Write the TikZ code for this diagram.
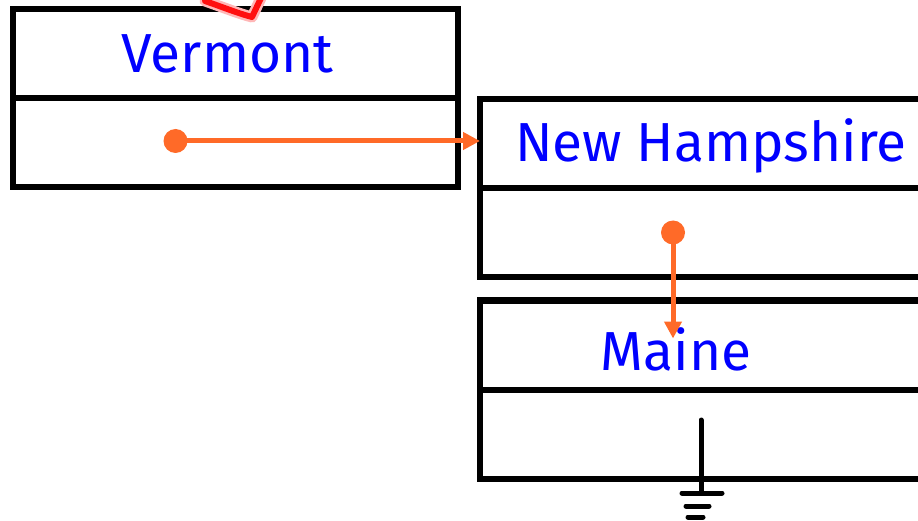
\documentclass[tikz,border=0pt]{standalone}
\usepackage{fontspec}
\setmainfont{Fira Sans}
\usetikzlibrary{positioning,arrows.meta,calc}
\definecolor{LinkOrange}{HTML}{FF6A28}
\definecolor{NameBlue}{HTML}{0000FF}
\definecolor{InkRed}{HTML}{FF1010}

\begin{document}
\begin{tikzpicture}[
    x=1pt, y=-1pt,
    cell/.style={draw, line width=6pt, outer sep=0pt, inner sep=0pt,
                 minimum height=89pt},
    lbl/.style={text=NameBlue, font=\fontsize{55}{64}\selectfont,
                inner sep=0pt},
    dot/.style={circle, fill=LinkOrange, minimum size=24pt, inner sep=0pt},
    ar/.style={-{Triangle[length=17pt,width=17pt]}, line width=5pt,
               draw=LinkOrange},
    gnd/.style={line width=5pt, line cap=round},
  ]
    \useasboundingbox (0,0) rectangle (918,521);
    \clip (0,0) rectangle (918,521);
    \fill[white] (0,0) rectangle (918,521);

    % -- three records: name cell on top, link cell below ----------------
    \node[cell, minimum width=445pt] (vname) at (235.5,54) {};
    \node[cell, minimum width=445pt, below=0pt of vname] (vlink) {};

    \node[cell, minimum width=462pt] (hname) at (711,143.5) {};
    \node[cell, minimum width=462pt, below=0pt of hname] (hlink) {};

    \node[cell, minimum width=462pt] (mname) at (711,345) {};
    \node[cell, minimum width=462pt, below=0pt of mname] (mlink) {};

    % -- state names -------------------------------------------------------
    \node[lbl] (vtxt) at ([xshift=-8pt]vname.center) {Vermont};
    \node[lbl] (htxt) at ([xshift=0pt,yshift=-2pt]hname.center) {New Hampshire};
    \node[lbl] (mtxt) at ([xshift=-35pt,yshift=-4pt]mname.center) {Maine};

    % -- pointers ----------------------------------------------------------
    \node[dot] (vdot) at ([xshift=-60pt,yshift=2pt]vlink.center) {};
    \node[dot] (hdot) at ([xshift=-38pt]hlink.center) {};
    \coordinate (mtip) at ($(hdot |- mname.north)+(0,38)$);

    \draw[ar] (vdot.center) -- (vdot.center -| hname.west);
    \draw[ar] (hdot.center) -- (mtip);

    % -- null pointer: ground ---------------------------------------------
    \coordinate (g0) at ($(mlink.center)+(-10,-14)$);
    \coordinate (g1) at ($(g0)+(0,73)$);
    \draw[gnd] (g0) -- (g1);
    \draw[gnd] ($(g1)+(-19,0)$) -- ($(g1)+(21,0)$);
    \draw[gnd] ($(g1)+(-15,13)$) -- ($(g1)+(8,13)$);
    \draw[gnd] ($(g1)+(-13,24)$) -- ($(g1)+(2,24)$);

    % -- red ink mark at the top ------------------------------------------
    \draw[InkRed!30, line width=11pt, line cap=round, line join=round]
      (205,1) .. controls (225,8) and (240,14) .. (252,17) -- (261,-2);
    \draw[InkRed, line width=6pt, line cap=round, line join=round]
      (205,1) .. controls (225,8) and (240,14) .. (252,17) -- (261,-2);
  \end{tikzpicture}
\end{document}
